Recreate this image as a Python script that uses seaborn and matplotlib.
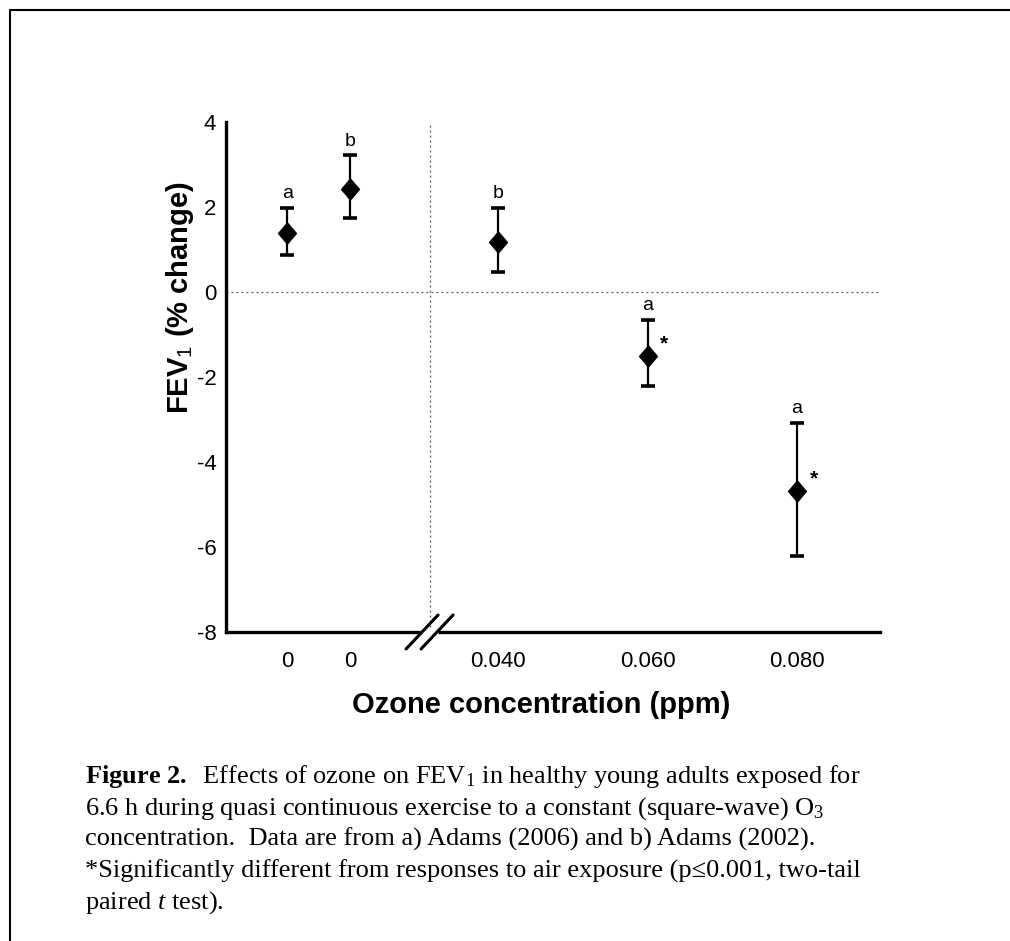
import matplotlib
matplotlib.use("Agg")
import matplotlib.pyplot as plt
import matplotlib.transforms as mtransforms
from matplotlib.lines import Line2D
import seaborn as sns
import pandas as pd

# ---------------- data ----------------
conditions = ["Air (2006)", "Air (2002)", "0.040 ppm", "0.060 ppm", "0.080 ppm"]
tick_labels = ["0", "0", "0.040", "0.060", "0.080"]
fev1_mean = [1.39, 2.42, 1.18, -1.51, -4.68]
err_upper = [1.98, 3.22, 1.98, -0.66, -3.08]
err_lower = [0.87, 1.74, 0.47, -2.21, -6.21]
study = ["a", "b", "b", "a", "a"]
significant = [False, False, False, True, True]
y_ticks = [4, 2, 0, -2, -4, -6, -8]

caption_lines = [
    r"$\mathbf{Figure\ 2.}$  Effects of ozone on FEV$_1$ in healthy young adults exposed for",
    r"6.6 h during quasi continuous exercise to a constant (square-wave) O$_3$",
    r"concentration.  Data are from a) Adams (2006) and b) Adams (2002).",
    r"*Significantly different from responses to air exposure (p≤0.001, two-tail",
    r"paired $t$ test).",
]

# ---------------- layout ----------------
x_positions = [0.0118, 0.0202, 0.040, 0.060, 0.080]   # plotting positions (axis break after the air points)
break_x = 0.0309
x_limits = (0.0036, 0.0911)

sns.set_theme(style="white")
plt.rcParams["font.family"] = ["Liberation Sans", "DejaVu Sans"]
plt.rcParams["axes.unicode_minus"] = False
plt.rcParams["text.color"] = "black"
plt.rcParams["axes.labelcolor"] = "black"
plt.rcParams["mathtext.fontset"] = "custom"
plt.rcParams["mathtext.rm"] = "Liberation Serif"
plt.rcParams["mathtext.it"] = "Liberation Serif:italic"
plt.rcParams["mathtext.bf"] = "Liberation Serif:bold"
plt.rcParams["mathtext.sf"] = "Liberation Sans"

W, H = 1010, 941
fig = plt.figure(figsize=(W / 100, H / 100), dpi=100)
fig.patch.set_facecolor("white")
ax = fig.add_axes([226 / W, 1 - 632 / H, 654 / W, 510 / H])
ax.set_facecolor("white")

df = pd.DataFrame({
    "condition": conditions,
    "x": x_positions,
    "mean": fev1_mean,
    "upper": err_upper,
    "lower": err_lower,
    "study": study,
    "sig": significant,
})

# reference lines
ax.axhline(0, color="#555555", lw=0.9, ls=(0, (1.5, 2.5)), zorder=1)
ax.axvline(break_x, color="#555555", lw=0.9, ls=(0, (1.5, 2.5)), zorder=1)

# error bars
ax.errorbar(df["x"], df["mean"],
            yerr=[df["mean"] - df["lower"], df["upper"] - df["mean"]],
            fmt="none", ecolor="black", elinewidth=1.6, capsize=5, capthick=2.6, zorder=3)

# diamonds
diamond = [(0, 1), (0.85, 0), (0, -1), (-0.85, 0), (0, 1)]
sns.scatterplot(data=df, x="x", y="mean", marker=diamond, s=250, color="black",
                edgecolor="black", linewidth=0.5, ax=ax, zorder=4, legend=False)

# study letters and significance stars
for _, r in df.iterrows():
    ax.annotate(r["study"], (r["x"], r["upper"]), xytext=(0, 4), textcoords="offset points",
                ha="center", va="bottom", fontsize=14, color="black")
    if r["sig"]:
        ax.annotate("*", (r["x"], r["mean"]), xytext=(12, 2), textcoords="offset points",
                    ha="center", va="bottom", fontsize=15, fontweight="bold", color="black")

ax.set_xlim(*x_limits)
ax.set_ylim(-8, 4)
ax.set_yticks(y_ticks)
ax.set_yticklabels([str(t) for t in y_ticks])
ax.set_xticks(x_positions)
ax.set_xticklabels(tick_labels)

for s in ["top", "right"]:
    ax.spines[s].set_visible(False)
for s in ["left", "bottom"]:
    ax.spines[s].set_linewidth(2.4)
    ax.spines[s].set_color("black")
ax.tick_params(axis="both", direction="out", length=4, width=2, colors="black",
               labelsize=16)
ax.tick_params(axis="y", pad=3)
ax.tick_params(axis="x", pad=10)

ax.set_xlabel("Ozone concentration (ppm)", fontsize=21, fontweight="bold", va="center",
              color="black")
ax.xaxis.set_label_coords((541 - 226) / 654, (632 - 705) / 510)
ax.set_ylabel(r"FEV$_\mathsf{1}$ (% change)", fontsize=21, fontweight="bold", va="center",
              color="black")
ax.yaxis.set_label_coords((180 - 226) / 654, (632 - 298) / 510)

# axis break symbol (pixel offsets around the break on the x-axis)
anchor = mtransforms.ScaledTranslation(break_x, -8, ax.transData)
tr = fig.dpi_scale_trans + anchor
ax.add_line(Line2D([-0.10, 0.08], [0, 0], transform=tr, color="white", lw=5,
                   clip_on=False, zorder=5, solid_capstyle="butt"))
for dx in (-0.08, 0.07):
    ax.add_line(Line2D([dx - 0.16, dx + 0.16], [-0.17, 0.17], transform=tr, color="black",
                       lw=2.2, clip_on=False, zorder=6))

# caption
for i, line in enumerate(caption_lines):
    fig.text(85 / W, 1 - (783 + 31.5 * i) / H, line, fontsize=19,
             family="Liberation Serif", ha="left", va="baseline", color="black")

# figure frame (left and top border)
fig.add_artist(Line2D([10 / W, 10 / W], [0, 1 - 10 / H], transform=fig.transFigure,
                      color="black", lw=1.5))
fig.add_artist(Line2D([10 / W, 1], [1 - 10 / H, 1 - 10 / H], transform=fig.transFigure,
                      color="black", lw=1.5))

fig.savefig("out.png", dpi=100, facecolor="white")
